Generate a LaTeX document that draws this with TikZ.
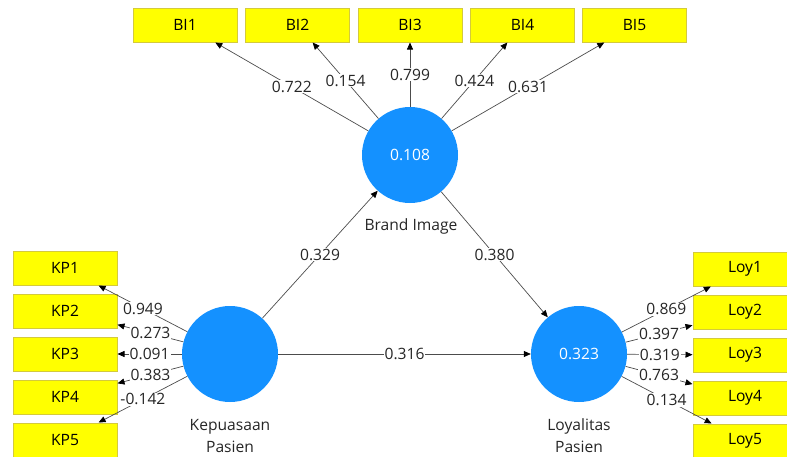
\documentclass[tikz,border=0pt]{standalone}
\usepackage{fontspec}
\setmainfont{Open Sans}
\usetikzlibrary{arrows.meta}
\definecolor{plsblue}{RGB}{20,145,255}
\definecolor{plsyellow}{RGB}{255,255,0}
\definecolor{plsborder}{RGB}{212,202,60}
\newcommand{\plsfont}{\fontsize{15.6}{22}\selectfont}
\begin{document}
\begin{tikzpicture}[x=1pt,y=-1pt,
  ind/.style={draw=plsborder, line width=1pt, fill=plsyellow, minimum width=104pt, minimum height=34pt, inner sep=0pt, font=\plsfont, text=black},
  lv/.style={circle, fill=plsblue, minimum size=96pt, inner sep=0pt, text=white, font=\plsfont},
  con/.style={draw=black!70, line width=0.7pt, -{Triangle[length=7pt,width=6pt,color=black]}},
  wt/.style={fill=white, inner sep=1pt, font=\plsfont, text=black!85},
  lvcap/.style={font=\plsfont, align=center, text=black!85}]
\useasboundingbox (0,0) rectangle (787,456);
\clip (0,0) rectangle (787,456);
% latent variables
\node[lv] (BIm) at (410,155) {0.108};
\node[lv] (KP) at (230,354) {};
\node[lv] (LY) at (579,354) {0.323};
% captions
\node[lvcap] (capBI) at (411,226) {Brand Image};
\node[lvcap] (capKP) at (230,436) {Kepuasaan\\Pasien};
\node[lvcap] (capLY) at (579,436) {Loyalitas\\Pasien};
% indicators
\node[ind] (BI1) at (185,25) {BI1};
\node[ind] (BI2) at (297.5,25) {BI2};
\node[ind] (BI3) at (410,25) {BI3};
\node[ind] (BI4) at (522.5,25) {BI4};
\node[ind] (BI5) at (634.5,25) {BI5};
\node[ind] (KP1) at (65,268) {KP1};
\node[ind] (KP2) at (65,311) {KP2};
\node[ind] (KP3) at (65,354) {KP3};
\node[ind] (KP4) at (65,397) {KP4};
\node[ind] (KP5) at (65,440) {KP5};
\node[ind] (L1) at (745,269) {Loy1};
\node[ind] (L2) at (745,312) {Loy2};
\node[ind] (L3) at (745,355) {Loy3};
\node[ind] (L4) at (745,398) {Loy4};
\node[ind] (L5) at (745,441) {Loy5};
% loadings
\draw[con] (BIm) -- node[wt]{0.722} (BI1);
\draw[con] (BIm) -- node[wt]{0.154} (BI2);
\draw[con] (BIm) -- node[wt]{0.799} (BI3);
\draw[con] (BIm) -- node[wt]{0.424} (BI4);
\draw[con] (BIm) -- node[wt]{0.631} (BI5);
\draw[con] (KP) -- node[wt]{0.949} (KP1);
\draw[con] (KP) -- node[wt]{0.273} (KP2);
\draw[con] (KP) -- node[wt]{0.091} (KP3);
\draw[con] (KP) -- node[wt]{0.383} (KP4);
\draw[con] (KP) -- node[wt]{-0.142} (KP5);
\draw[con] (LY) -- node[wt]{0.869} (L1);
\draw[con] (LY) -- node[wt]{0.397} (L2);
\draw[con] (LY) -- node[wt]{0.319} (L3);
\draw[con] (LY) -- node[wt]{0.763} (L4);
\draw[con] (LY) -- node[wt]{0.134} (L5);
% paths
\draw[con] (KP) -- node[wt]{0.329} (BIm);
\draw[con] (BIm) -- node[wt]{0.380} (LY);
\draw[con] (KP) -- node[wt]{0.316} (LY);
\end{tikzpicture}
\end{document}
